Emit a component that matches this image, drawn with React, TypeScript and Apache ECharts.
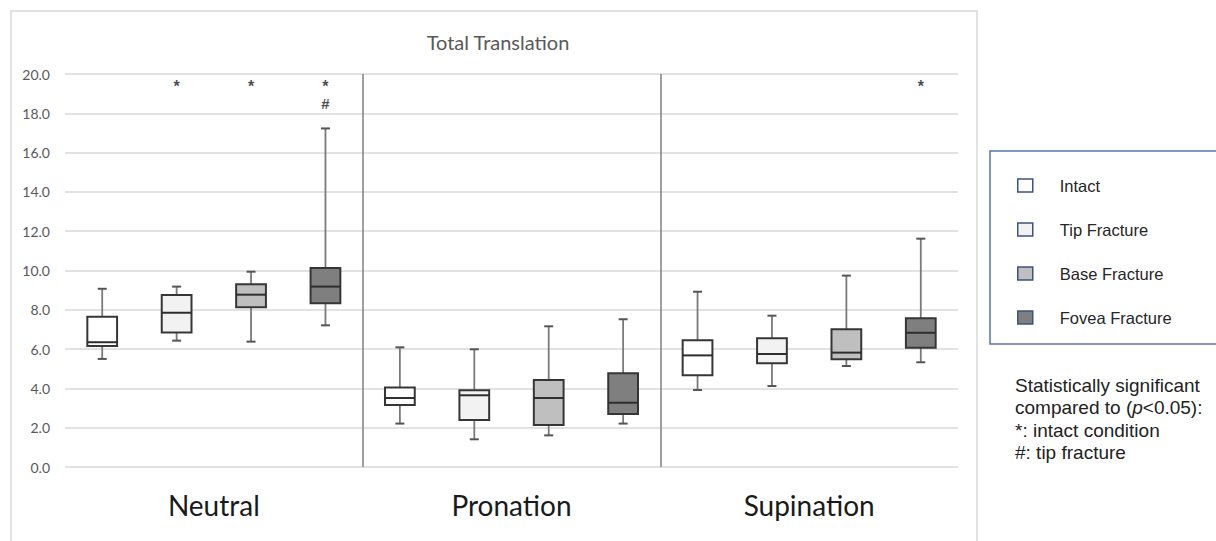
import React, { useEffect, useRef } from "react";
import * as echarts from "echarts";

// ---- data ----
const groups = ["Neutral", "Pronation", "Supination"];
const conditions = ["Intact", "Tip Fracture", "Base Fracture", "Fovea Fracture"];
const yTicks = [0, 2, 4, 6, 8, 10, 12, 14, 16, 18, 20];

// [min, q1, median, q3, max] per group (Neutral, Pronation, Supination)
const intact = [
  [5.5, 6.16, 6.35, 7.65, 9.07],
  [2.21, 3.16, 3.51, 4.04, 6.09],
  [3.92, 4.67, 5.68, 6.45, 8.92],
];
const tipFracture = [
  [6.43, 6.84, 7.85, 8.75, 9.18],
  [1.41, 2.39, 3.65, 3.9, 5.99],
  [4.12, 5.28, 5.75, 6.55, 7.7],
];
const baseFracture = [
  [6.38, 8.13, 8.77, 9.3, 9.94],
  [1.61, 2.14, 3.51, 4.43, 7.16],
  [5.14, 5.48, 5.82, 7.01, 9.74],
];
const foveaFracture = [
  [7.21, 8.33, 9.18, 10.13, 17.23],
  [2.21, 2.7, 3.27, 4.77, 7.52],
  [5.33, 6.07, 6.83, 7.57, 11.62],
];
const seriesData = [intact, tipFracture, baseFracture, foveaFracture];

// significance markers: [groupIndex, conditionIndex]
const vsIntact = [[0, 1], [0, 2], [0, 3], [2, 3]];
const vsTip = [[0, 3]];

// ---- styles ----
const fills = ["#ffffff", "#f2f2f2", "#bfbfbf", "#7f7f7f"];
const STAR_LEVEL = 19.5;
const HASH_LEVEL = 18.5;
const BOX_W = 0.4;

const slotX = (g: number, c: number) => g * conditions.length + c + 0.5;

export default function App() {
  const ref = useRef<HTMLDivElement>(null);
  useEffect(() => {
    if (!ref.current) return;
    const chart = echarts.init(ref.current, null, { renderer: "svg" });

    const renderItem = (params: any, api: any) => {
      const x = api.value(0);
      const pMin = api.coord([x, api.value(1)]);
      const pQ1 = api.coord([x, api.value(2)]);
      const pMed = api.coord([x, api.value(3)]);
      const pQ3 = api.coord([x, api.value(4)]);
      const pMax = api.coord([x, api.value(5)]);
      const w = api.size([BOX_W, 0])[0];
      const cx = pMed[0];
      const fill = fills[params.seriesIndex];
      return {
        type: "group",
        children: [
          {
            type: "line",
            shape: { x1: cx, y1: pMin[1], x2: cx, y2: pMax[1] },
            style: { stroke: "#7a7a7a", lineWidth: 1.8 },
          },
          {
            type: "line",
            shape: { x1: cx - 4.5, y1: pMin[1], x2: cx + 4.5, y2: pMin[1] },
            style: { stroke: "#555", lineWidth: 2 },
          },
          {
            type: "line",
            shape: { x1: cx - 4.5, y1: pMax[1], x2: cx + 4.5, y2: pMax[1] },
            style: { stroke: "#555", lineWidth: 2 },
          },
          {
            type: "rect",
            shape: { x: cx - w / 2, y: pQ3[1], width: w, height: pQ1[1] - pQ3[1] },
            style: { fill, stroke: "#363636", lineWidth: 2 },
          },
          {
            type: "line",
            shape: { x1: cx - w / 2, y1: pMed[1], x2: cx + w / 2, y2: pMed[1] },
            style: { stroke: "#2e2e2e", lineWidth: 2 },
          },
        ],
      };
    };

    const boxSeries = conditions.map((name, c) => ({
      name,
      type: "custom",
      renderItem,
      itemStyle: { color: fills[c] },
      encode: { x: 0, y: [1, 2, 3, 4, 5] },
      data: seriesData[c].map((v, g) => [slotX(g, c), ...v]),
      z: 3,
    }));

    const markerSeries = (list: number[][], level: number, text: string, size: number, offsetY: number) => ({
      type: "scatter",
      symbolSize: 0,
      silent: true,
      data: list.map(([g, c]) => [slotX(g, c), level]),
      label: {
        show: true,
        position: "inside",
        formatter: text,
        color: "#1a1a1a",
        fontSize: size,
        fontWeight: "bold",
        fontFamily: "Liberation Sans",
        offset: [0, offsetY],
      },
      z: 4,
    });

    chart.setOption({
      animation: false,
      backgroundColor: "#ffffff",
      title: {
        text: "Total Translation",
        left: 493,
        top: 27,
        textAlign: "center",
        textStyle: { fontFamily: "Lato", fontSize: 20, fontWeight: "normal", color: "#595959" },
      },
      grid: { left: 65, right: 258, top: 74, bottom: 74 },
      legend: {
        orient: "vertical",
        left: 1017,
        top: 177,
        padding: 0,
        icon: "rect",
        itemWidth: 15,
        itemHeight: 13,
        itemGap: 27,
        selectedMode: false,
        data: conditions,
        itemStyle: { borderColor: "#3c5383", borderWidth: 1.5 },
        textStyle: {
          fontFamily: "Liberation Sans",
          fontSize: 16.5,
          color: "#262626",
          padding: [0, 0, 0, 22],
        },
      },
      xAxis: [
        {
          type: "value",
          min: 0,
          max: groups.length * conditions.length,
          interval: conditions.length,
          axisLabel: { show: false },
          axisTick: { show: false },
          axisLine: { show: false },
          splitLine: {
            show: true,
            showMinLine: false,
            showMaxLine: false,
            lineStyle: { color: "#7f7f7f", width: 1.5 },
          },
        },
        {
          type: "category",
          data: groups,
          position: "bottom",
          axisLine: { show: false },
          axisTick: { show: false },
          splitLine: { show: false },
          axisLabel: {
            fontFamily: "Lato",
            fontSize: 28,
            color: "#1a1a1a",
            margin: 24,
          },
        },
      ],
      yAxis: {
        type: "value",
        min: yTicks[0],
        max: yTicks[yTicks.length - 1],
        interval: yTicks[1] - yTicks[0],
        axisLine: { show: false },
        axisTick: { show: false },
        axisLabel: {
          formatter: (v: number) => v.toFixed(1),
          fontFamily: "Lato",
          fontSize: 14,
          color: "#595959",
          margin: 15,
        },
        splitLine: { lineStyle: { color: "#d9d9d9", width: 1.5 } },
      },
      graphic: [
        {
          type: "rect",
          shape: { x: 11, y: 11, width: 966, height: 545 },
          style: { fill: "none", stroke: "#d9d9d9", lineWidth: 1.5 },
          silent: true,
        },
        {
          type: "rect",
          shape: { x: 990, y: 151, width: 240, height: 193 },
          style: { fill: "none", stroke: "#5a76ab", lineWidth: 1.5 },
          silent: true,
        },
        {
          type: "text",
          x: 1015,
          y: 374,
          style: {
            text: "Statistically significant\ncompared to ({i|p}<0.05):\n*: intact condition\n#: tip fracture",
            fontFamily: "Liberation Sans",
            fontSize: 19,
            lineHeight: 22.5,
            fill: "#222",
            rich: {
              i: { fontStyle: "italic", fontFamily: "Liberation Sans", fontSize: 19, lineHeight: 22.5, fill: "#222" },
            },
          },
          silent: true,
        },
      ],
      series: [
        ...boxSeries,
        markerSeries(vsIntact, STAR_LEVEL, "*", 16, 3),
        markerSeries(vsTip, HASH_LEVEL, "#", 15, 0),
      ],
    });
    return () => chart.dispose();
  }, []);
  return (
    <div
      ref={ref}
      style={{ position: "absolute", left: 0, top: 0, width: "1216px", height: "541px" }}
    />
  );
}
